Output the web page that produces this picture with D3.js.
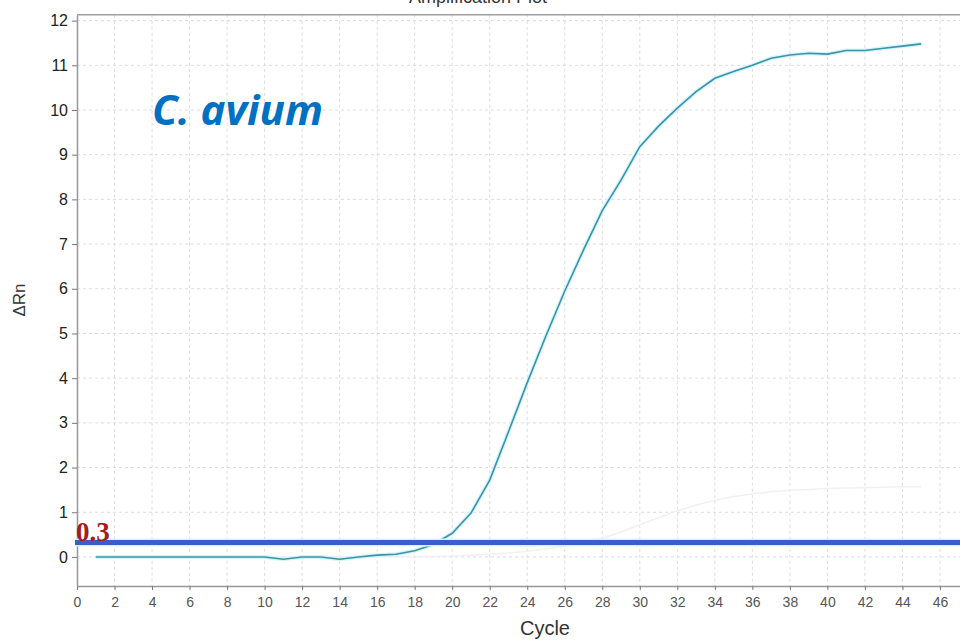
<!DOCTYPE html>
<html>
<head>
<meta charset="utf-8">
<script src="https://cdn.jsdelivr.net/npm/d3@7"></script>
<style>
  body { margin: 0; background: #fff; }
  svg { display: block; }
</style>
</head>
<body>
<main></main>
<script>
const width = 960;
const height = 641;

const cycles = d3.range(1, 46);
// C. avium sample, ΔRn per cycle
const sampleValues = [
  0, 0, 0, 0, 0, 0, 0, 0, 0, 0,
  -0.05, 0, 0, -0.05, 0, 0.04, 0.06, 0.14, 0.28, 0.53,
  0.98, 1.72, 2.8, 3.9, 4.95, 5.95, 6.87, 7.75, 8.43, 9.18,
  9.64, 10.04, 10.41, 10.71, 10.86, 11.0, 11.16, 11.23, 11.27, 11.25,
  11.33, 11.33, 11.38, 11.43, 11.48
];
// faint second trace
const faintValues = [
  0, 0, 0, 0, 0, 0, 0, 0, 0, 0,
  0, 0, 0, 0, 0, 0, 0, 0, 0.01, 0.02,
  0.04, 0.06, 0.09, 0.13, 0.18, 0.24, 0.32, 0.42, 0.56, 0.72,
  0.88, 1.03, 1.16, 1.27, 1.35, 1.41, 1.46, 1.49, 1.51, 1.53,
  1.54, 1.55, 1.56, 1.57, 1.57
];
const threshold = 0.3;
const xTicks = d3.range(0, 47, 2);
const yTicks = d3.range(0, 13, 1);

const xScale = d3.scaleLinear()
  .domain([0, 47.2])
  .range([77, 77 + 47.2 * 18.76]);

const yScale = d3.scaleLinear()
  .domain([-0.65, 12.13])
  .range([586, 14.8]);

const svg = d3.select('main')
  .append('svg')
  .attr('width', width)
  .attr('height', height)
  .style('font-family', 'Liberation Sans, Arial, sans-serif');

// Title (cut off at top, as in the original screenshot)
svg.append('text')
  .text('Amplification Plot')
  .attr('x', 478)
  .attr('y', 3)
  .attr('text-anchor', 'middle')
  .style('font-size', '18px')
  .style('fill', '#333');

// Grid
svg.append('g')
  .selectAll('line')
  .data(xTicks.filter(d => d > 0))
  .enter()
  .append('line')
  .attr('x1', d => xScale(d))
  .attr('x2', d => xScale(d))
  .attr('y1', yScale.range()[1])
  .attr('y2', yScale.range()[0])
  .style('stroke', '#dcdcdc')
  .style('stroke-dasharray', '3,3');

svg.append('g')
  .selectAll('line')
  .data(yTicks)
  .enter()
  .append('line')
  .attr('x1', xScale(0))
  .attr('x2', width)
  .attr('y1', d => yScale(d))
  .attr('y2', d => yScale(d))
  .style('stroke', '#dcdcdc')
  .style('stroke-dasharray', '3,3');

// top frame
svg.append('line')
  .attr('x1', xScale(0))
  .attr('x2', width)
  .attr('y1', yScale.range()[1])
  .attr('y2', yScale.range()[1])
  .style('stroke', '#a0a0a0')
  .style('stroke-width', 1.5);

// Axes
const xAxis = svg.append('g')
  .attr('transform', `translate(0, ${yScale.range()[0]})`)
  .call(d3.axisBottom(xScale).tickValues(xTicks).tickSize(4).tickPadding(7).tickSizeOuter(0));

const yAxis = svg.append('g')
  .attr('transform', `translate(${xScale(0)}, 0)`)
  .call(d3.axisLeft(yScale).tickValues(yTicks).tickSize(5).tickPadding(4).tickSizeOuter(0));

[xAxis, yAxis].forEach(a => {
  a.select('.domain').style('stroke', '#999').style('stroke-width', 1.5);
  a.selectAll('.tick line').style('stroke', '#777');
  a.selectAll('.tick text').style('font-family', 'Liberation Sans, Arial, sans-serif');
});
xAxis.selectAll('.tick text').style('font-size', '14px').style('fill', '#555');
yAxis.selectAll('.tick text').style('font-size', '16px').style('fill', '#222');

// Axis labels
svg.append('text')
  .text('Cycle')
  .attr('x', 545)
  .attr('y', 635)
  .attr('text-anchor', 'middle')
  .style('font-size', '20px')
  .style('fill', '#333');

svg.append('text')
  .text('ΔRn')
  .attr('transform', 'translate(25, 300) rotate(-90)')
  .attr('text-anchor', 'middle')
  .style('font-size', '17px')
  .style('fill', '#333');

// Traces
const line = d3.line()
  .x((d, i) => xScale(cycles[i]))
  .y(d => yScale(d));

svg.append('path')
  .attr('d', line(faintValues))
  .style('fill', 'none')
  .style('stroke', '#f1f1f1')
  .style('stroke-width', 1.5);

svg.append('path')
  .attr('d', line(sampleValues))
  .style('fill', 'none')
  .style('stroke', '#d4f4fb')
  .style('stroke-width', 4);

svg.append('path')
  .attr('d', line(sampleValues))
  .style('fill', 'none')
  .style('stroke', '#3a94a9')
  .style('stroke-width', 1.6);

// Threshold
svg.append('line')
  .attr('x1', xScale(0) - 2)
  .attr('x2', width)
  .attr('y1', yScale(threshold) - 1)
  .attr('y2', yScale(threshold) - 1)
  .style('stroke', '#d8f2fb')
  .style('stroke-width', 8);

svg.append('line')
  .attr('x1', xScale(0) - 2)
  .attr('x2', width)
  .attr('y1', yScale(threshold) - 1)
  .attr('y2', yScale(threshold) - 1)
  .style('stroke', '#3a5ccc')
  .style('stroke-width', 5);

svg.append('text')
  .text(threshold)
  .attr('x', xScale(0) - 1)
  .attr('y', yScale(threshold) - 3)
  .style('font-family', 'Liberation Serif, Times New Roman, serif')
  .style('font-weight', 'bold')
  .style('font-size', '27px')
  .style('fill', '#a31d1d');

// Species label
svg.append('text')
  .text('C. avium')
  .attr('x', 152)
  .attr('y', 125)
  .style('font-family', 'Open Sans, sans-serif')
  .style('font-weight', 'bold')
  .style('font-style', 'italic')
  .style('font-size', '42px')
  .style('fill', '#0070c0');
</script>
</body>
</html>
